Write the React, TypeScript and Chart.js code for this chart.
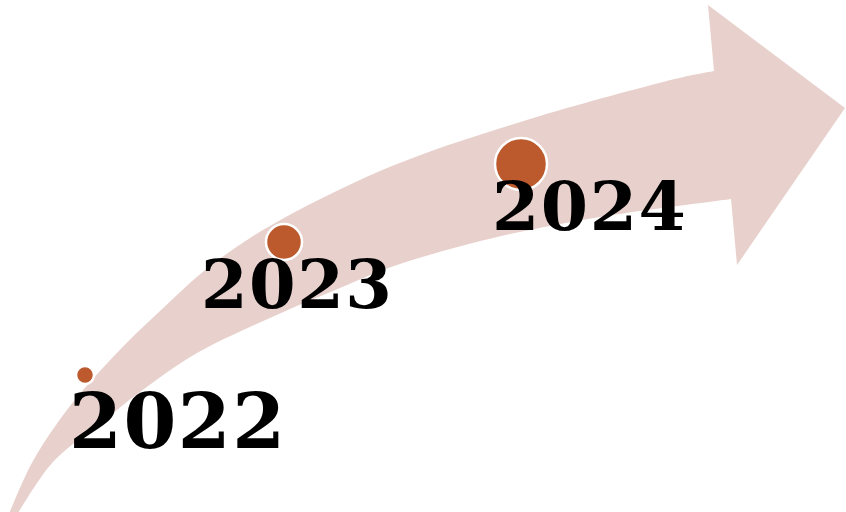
import React, { useEffect, useRef } from "react";
import { Chart, registerables } from "chart.js";

Chart.register(...registerables);

// ---- data ----
const years = ["2022", "2023", "2024"];
const bubbleX = [85, 284, 521];
const bubbleY = [375, 242, 164];
const bubbleSize = [9, 18, 26];

// arrow outline (in the chart's own value space)
const arrowUpperX = [8, 33, 70, 113, 160, 213, 284, 397, 530, 663, 714];
const arrowUpperY = [516, 461, 406, 357, 311, 264, 218, 164, 119, 82, 71];
const arrowLowerX = [16, 53, 100, 140, 197, 270, 340, 400, 493, 600, 731];
const arrowLowerY = [516, 462, 424, 392, 353, 318, 288, 264, 238, 217, 199];
const arrowHeadX = [708, 845, 737];
const arrowHeadY = [5, 108, 265];

// label layout
const labelX = [69, 201, 492];
const labelY = [448, 308, 230];
const labelFont = [76, 67, 68];

const PINK = "#E8D1CC";
const RUST = "#BC592D";

type P = { x: number; y: number };

function smoothPath(ctx: CanvasRenderingContext2D, pts: P[], moveFirst: boolean) {
  if (moveFirst) ctx.moveTo(pts[0].x, pts[0].y);
  else ctx.lineTo(pts[0].x, pts[0].y);
  for (let i = 0; i < pts.length - 1; i++) {
    const p0 = pts[Math.max(0, i - 1)];
    const p1 = pts[i];
    const p2 = pts[i + 1];
    const p3 = pts[Math.min(pts.length - 1, i + 2)];
    const c1x = p1.x + (p2.x - p0.x) / 6;
    const c1y = p1.y + (p2.y - p0.y) / 6;
    const c2x = p2.x - (p3.x - p1.x) / 6;
    const c2y = p2.y - (p3.y - p1.y) / 6;
    ctx.bezierCurveTo(c1x, c1y, c2x, c2y, p2.x, p2.y);
  }
}

const arrowPlugin = {
  id: "arrowShape",
  beforeDatasetsDraw(chart: any) {
    const { ctx, scales } = chart;
    const sx = (v: number) => scales.x.getPixelForValue(v);
    const sy = (v: number) => scales.y.getPixelForValue(v);
    const upper = arrowUpperX.map((x, i) => ({ x: sx(x), y: sy(arrowUpperY[i]) }));
    const lower = arrowLowerX
      .map((x, i) => ({ x: sx(x), y: sy(arrowLowerY[i]) }))
      .reverse();
    ctx.save();
    ctx.beginPath();
    smoothPath(ctx, upper, true);
    arrowHeadX.forEach((x, i) => ctx.lineTo(sx(x), sy(arrowHeadY[i])));
    smoothPath(ctx, lower, false);
    ctx.closePath();
    ctx.fillStyle = PINK;
    ctx.fill();
    ctx.restore();
  },
};

const labelPlugin = {
  id: "yearLabels",
  afterDatasetsDraw(chart: any) {
    const { ctx, scales } = chart;
    ctx.save();
    ctx.fillStyle = "#000";
    ctx.textAlign = "left";
    ctx.textBaseline = "alphabetic";
    try {
      (ctx as any).letterSpacing = "1.5px";
    } catch (e) {}
    years.forEach((t, i) => {
      ctx.font = `bold ${labelFont[i]}px "DejaVu Serif", serif`;
      ctx.fillText(t, scales.x.getPixelForValue(labelX[i]), scales.y.getPixelForValue(labelY[i]));
    });
    ctx.restore();
  },
};

export default function App() {
  const ref = useRef<HTMLCanvasElement | null>(null);
  useEffect(() => {
    document.body.style.margin = "0";
    const canvas = ref.current;
    if (!canvas) return;
    const chart = new Chart(canvas, {
      type: "bubble",
      data: {
        datasets: [
          {
            label: "years",
            data: years.map((_, i) => ({ x: bubbleX[i], y: bubbleY[i], r: bubbleSize[i] })),
            backgroundColor: RUST,
            borderColor: "#FFFFFF",
            borderWidth: 2.5,
          },
        ],
      },
      options: {
        animation: false,
        responsive: false,
        maintainAspectRatio: false,
        layout: { padding: 0, autoPadding: false },
        scales: {
          x: { type: "linear", min: 0, max: 846, display: false },
          y: { type: "linear", min: 0, max: 512, reverse: true, display: false },
        },
        plugins: {
          legend: { display: false },
          tooltip: { enabled: false },
        },
      },
      plugins: [arrowPlugin, labelPlugin],
    });
    return () => chart.destroy();
  }, []);
  return (
    <div style={{ width: 846, height: 512, background: "#fff" }}>
      <canvas ref={ref} width={846} height={512} style={{ display: "block" }} />
    </div>
  );
}
